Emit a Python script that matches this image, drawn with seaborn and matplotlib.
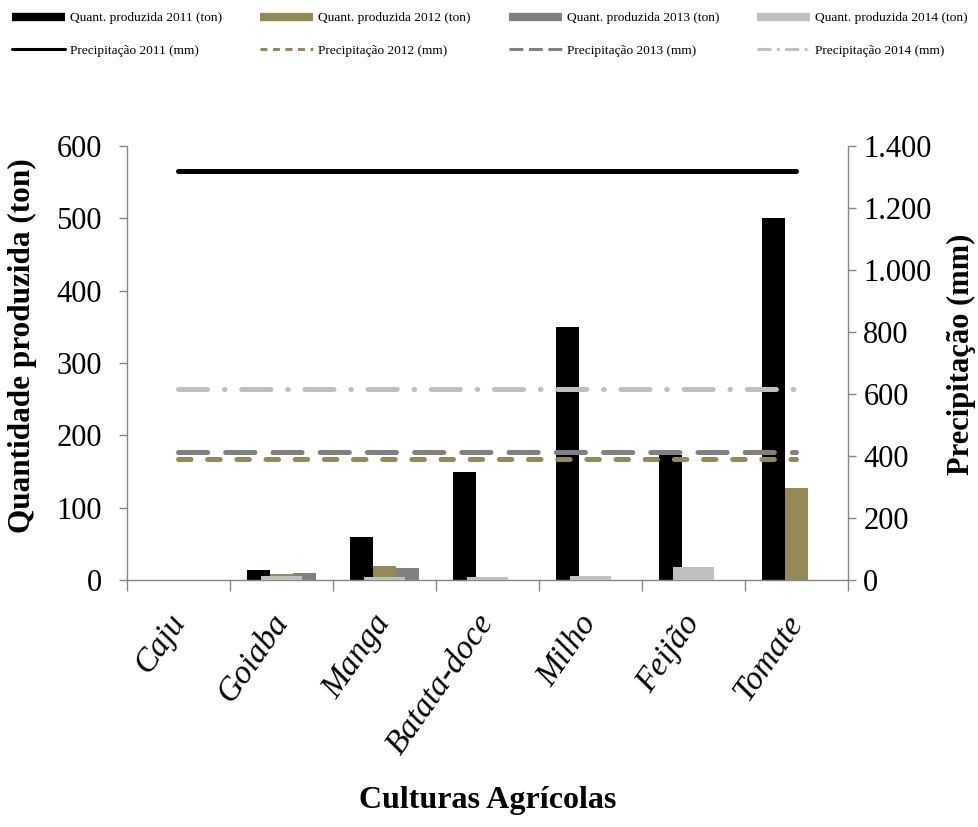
import matplotlib
matplotlib.use('Agg')
import matplotlib.pyplot as plt
from matplotlib.lines import Line2D
from matplotlib.ticker import FuncFormatter, MultipleLocator, FixedLocator
import seaborn as sns
import pandas as pd
import numpy as np

# dados
culturas = ['Caju', 'Goiaba', 'Manga', 'Batata-doce', 'Milho', 'Feijão', 'Tomate']
quant_2011 = [0, 14, 60, 150, 350, 173, 500]
quant_2012 = [0, 8, 20, 0, 0, 0, 127]
quant_2013 = [0, 10, 16, 0, 0, 0, 0]
quant_2014 = [0, 5, 4, 3.5, 5.5, 18, 0]
anos = ['2011', '2012', '2013', '2014']
precipitacao = [1318, 391, 413, 615]

cores_barras = ['#000000', '#948A54', '#808080', '#BFBFBF']
cores_linhas = ['#000000', '#948A54', '#808080', '#BFBFBF']

sns.set_theme(style='white')
plt.rcParams['font.family'] = ['Liberation Serif', 'DejaVu Serif']
plt.rcParams['lines.scale_dashes'] = False
plt.rcParams['text.color'] = 'black'
plt.rcParams['axes.labelcolor'] = 'black'
plt.rcParams['xtick.color'] = 'black'
plt.rcParams['ytick.color'] = 'black'

df = pd.DataFrame({
    'Cultura': culturas * 3,
    'Ano': ['2011'] * 7 + ['2012'] * 7 + ['2013'] * 7,
    'Quantidade': quant_2011 + quant_2012 + quant_2013,
})

fig = plt.figure(figsize=(9.79, 8.27), dpi=100)
ax = fig.add_axes([127 / 979, 1 - 580 / 827, 721 / 979, 434 / 827])

sns.barplot(data=df, x='Cultura', y='Quantidade', hue='Ano', order=culturas,
            hue_order=anos[:3], palette=cores_barras[:3], width=0.67, gap=0,
            saturation=1, errorbar=None, legend=False, ax=ax, linewidth=0)
# 2014 com largura diferente (como no Excel)
x = np.arange(len(culturas))
ax.bar(x, quant_2014, width=0.39, color=cores_barras[3], linewidth=0, zorder=3)

ax.set_xlim(-0.5, len(culturas) - 0.5)
ax.set_ylim(0, 600)
ax.yaxis.set_major_locator(MultipleLocator(100))

ax2 = ax.twinx()
estilos = ['-', (0, (9, 12)), (0, (21, 13)), (0, (21, 12, 0.5, 12))]
for p, cor, ls in zip(precipitacao, cores_linhas, estilos):
    ax2.hlines(p, 0, len(culturas) - 1, colors=cor, linestyles=ls,
               linewidth=3.6, capstyle='round')
ax2.set_ylim(0, 1400)
ax2.yaxis.set_major_locator(MultipleLocator(200))
ax2.yaxis.set_major_formatter(FuncFormatter(lambda v, _: f'{v:,.0f}'.replace(',', '.')))

# eixos
for a in (ax, ax2):
    for s in a.spines.values():
        s.set_color('#868686')
        s.set_linewidth(1)
    a.spines['top'].set_visible(False)
ax.spines['right'].set_visible(False)
ax2.spines['left'].set_visible(False)
ax2.spines['bottom'].set_visible(False)

ax.tick_params(axis='y', which='major', direction='out', length=6, width=1,
               color='#868686', labelcolor='black', labelsize=22, pad=12, left=True)
ax2.tick_params(axis='y', which='major', direction='out', length=6, width=1,
                color='#868686', labelcolor='black', labelsize=22, pad=5, right=True)
ax.xaxis.set_minor_locator(FixedLocator(np.arange(len(culturas) + 1) - 0.5))
ax.tick_params(axis='x', which='minor', direction='out', length=8, width=1,
               color='#868686', bottom=True)
ax.tick_params(axis='x', which='major', length=0, pad=27, labelcolor='black')
ax.set_xticks(x)
ax.set_xticklabels(culturas, rotation=55, ha='right', va='center',
                   rotation_mode='anchor', fontsize=24, fontstyle='italic')

ax.set_xlabel('Culturas Agrícolas', fontsize=23, fontweight='bold')
ax.xaxis.set_label_coords(0.5, -0.475)
ax.set_ylabel('Quantidade produzida (ton)', fontsize=22.5, fontweight='bold')
ax.yaxis.set_label_coords(-0.125, 0.54)
ax2.set_ylabel('Precipitação (mm)', fontsize=22, fontweight='bold')
ax2.yaxis.set_label_coords(1.137, 0.52)

# legenda (preenche por coluna: barra em cima, linha embaixo)
estilos_leg = ['-', (0, (5, 4)), (0, (10, 4)), (0, (10, 4, 2, 4))]
handles, labels = [], []
for i, ano in enumerate(anos):
    handles.append(Line2D([], [], color=cores_barras[i], lw=6, solid_capstyle='butt'))
    labels.append(f'Quant. produzida {ano} (ton)')
    handles.append(Line2D([], [], color=cores_linhas[i], lw=2.2, linestyle=estilos_leg[i]))
    labels.append(f'Precipitação {ano} (mm)')
fig.legend(handles, labels, ncol=4, loc='upper left', bbox_to_anchor=(12 / 979, 1 - 12 / 827),
           frameon=False, fontsize=9.6, handlelength=4.0, handletextpad=0.35,
           columnspacing=2.85, labelspacing=1.5, borderpad=0, borderaxespad=0)

plt.savefig('out.png', dpi=100)
plt.close()
